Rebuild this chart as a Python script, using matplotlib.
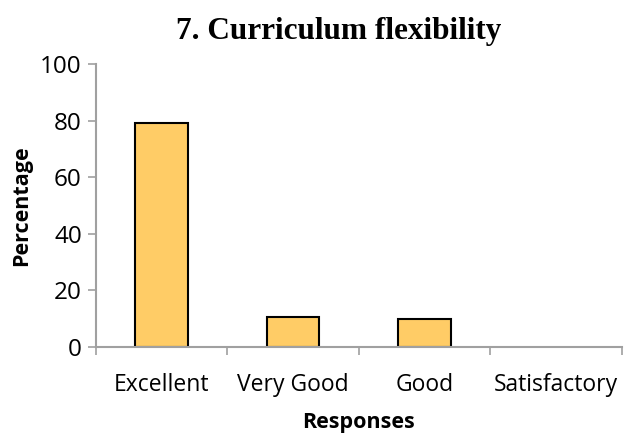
import matplotlib
matplotlib.use("Agg")
import matplotlib.pyplot as plt
import numpy as np

categories = ["Excellent", "Very Good", "Good", "Satisfactory"]
percentages = [79.3, 10.6, 9.9, 0.0]
y_ticks = [0, 20, 40, 60, 80, 100]

fig = plt.figure(figsize=(6.24, 4.34), dpi=100)
ax = fig.add_axes([0.1534, 0.2012, 0.843, 0.6513])

x = np.arange(len(categories))
# a zero-height bar has no visible outline in the original
edge_widths = [1.5 if v > 0 else 0 for v in percentages]
ax.bar(x, percentages, width=0.4, color="#FFCC66", edgecolor="black",
       linewidth=edge_widths, zorder=2)

ax.set_xlim(-0.5, len(categories) - 0.5)
ax.set_ylim(0, 100)
ax.set_yticks(y_ticks)

# labels at category centres, tick marks on category boundaries
ax.set_xticks(x)
ax.set_xticklabels(categories)
ax.set_xticks(np.arange(-0.5, len(categories)), minor=True)
ax.tick_params(axis="x", which="major", length=0, pad=19)
ax.tick_params(axis="x", which="minor", length=6, width=1.2, color="#a0a0a0", direction="out")
ax.tick_params(axis="y", length=6, width=1.2, color="#a0a0a0", direction="out", pad=4)

font = "Open Sans"
for lab in ax.get_xticklabels():
    lab.set_fontfamily(font)
    lab.set_fontsize(16.5)
for lab in ax.get_yticklabels():
    lab.set_fontfamily(font)
    lab.set_fontsize(17.5)

for side in ["top", "right"]:
    ax.spines[side].set_visible(False)
for side in ["left", "bottom"]:
    ax.spines[side].set_color("#a0a0a0")
    ax.spines[side].set_linewidth(1.5)
    ax.spines[side].set_zorder(3)

ax.set_ylabel("Percentage", fontfamily=font, fontweight="bold", fontsize=15.5, labelpad=6)
ax.set_xlabel("Responses", fontfamily=font, fontweight="bold", fontsize=15.5, labelpad=11)

fig.text(0.542, 0.928, "7. Curriculum flexibility", ha="center", va="center",
         fontfamily="Liberation Serif", fontweight="bold", fontsize=22.5)

fig.savefig("out.png", dpi=100)
